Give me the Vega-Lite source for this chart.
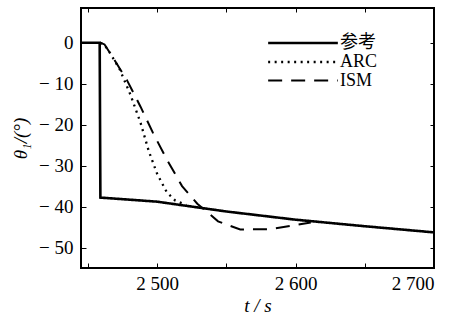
{
  "$schema": "https://vega.github.io/schema/vega-lite/v6.json",
  "width": 353,
  "height": 260,
  "autosize": {"type": "none"},
  "padding": {"left": 81, "top": 8, "right": 21, "bottom": 54},
  "background": "white",
  "config": {
    "view": {"stroke": "black", "strokeWidth": 2},
    "font": "Liberation Serif",
    "axis": {"domain": false, "grid": false, "tickColor": "black", "labelColor": "black", "titleColor": "black", "labelFont": "Liberation Serif", "titleFont": "Liberation Serif", "labelFontSize": 19, "titleFontSize": 19, "titleFontWeight": "normal"}
  },
  "data": {
    "values": [
      {"s": "参考", "t": 2445, "v": 0},
      {"s": "参考", "t": 2458.5, "v": 0},
      {"s": "参考", "t": 2459, "v": -37.8},
      {"s": "参考", "t": 2500, "v": -38.8},
      {"s": "参考", "t": 2550, "v": -41.2},
      {"s": "参考", "t": 2600, "v": -43.2},
      {"s": "参考", "t": 2650, "v": -44.8},
      {"s": "参考", "t": 2700, "v": -46.3},
      {"s": "ARC", "t": 2459, "v": 0},
      {"s": "ARC", "t": 2462, "v": -0.5},
      {"s": "ARC", "t": 2466, "v": -2.5},
      {"s": "ARC", "t": 2473, "v": -6.5},
      {"s": "ARC", "t": 2480.5, "v": -12.5},
      {"s": "ARC", "t": 2488, "v": -19.5},
      {"s": "ARC", "t": 2494, "v": -26.5},
      {"s": "ARC", "t": 2500, "v": -32},
      {"s": "ARC", "t": 2507, "v": -36.5},
      {"s": "ARC", "t": 2513, "v": -38.5},
      {"s": "ARC", "t": 2521, "v": -39.6},
      {"s": "ISM", "t": 2459, "v": 0},
      {"s": "ISM", "t": 2462, "v": -0.4},
      {"s": "ISM", "t": 2466, "v": -2.5},
      {"s": "ISM", "t": 2478, "v": -9},
      {"s": "ISM", "t": 2488, "v": -15.6},
      {"s": "ISM", "t": 2497, "v": -22},
      {"s": "ISM", "t": 2507, "v": -28.5},
      {"s": "ISM", "t": 2518, "v": -35},
      {"s": "ISM", "t": 2529, "v": -39.3},
      {"s": "ISM", "t": 2544, "v": -43.6},
      {"s": "ISM", "t": 2560, "v": -45.6},
      {"s": "ISM", "t": 2582, "v": -45.5},
      {"s": "ISM", "t": 2611, "v": -43.9}
    ]
  },
  "layer": [
    {
      "mark": {"type": "line", "color": "black", "strokeCap": "butt", "strokeJoin": "miter"},
      "encoding": {
        "x": {"field": "t", "type": "quantitative", "scale": {"domain": [2445, 2700], "nice": false, "zero": false},
          "axis": {"orient": "bottom", "title": "t / s", "titleFontStyle": "italic", "values": [2450, 2500, 2550, 2600, 2650, 2700], "labelExpr": "datum.value % 100 == 0 ? replace(format(datum.value, ','), ',', ' ') : ''", "tickSize": -5, "labelPadding": 11, "titlePadding": 3}},
        "y": {"field": "v", "type": "quantitative", "scale": {"domain": [-55, 8.5], "nice": false, "zero": false},
          "axis": {"orient": "left", "title": "θ₁/(°)", "titleFontStyle": "italic", "values": [-50, -40, -30, -20, -10, 0], "labelExpr": "datum.value < 0 ? '− ' + abs(datum.value) : '0'", "tickSize": -5, "labelPadding": 13, "titlePadding": 8}},
        "strokeDash": {"field": "s", "type": "nominal", "scale": {"domain": ["参考", "ARC", "ISM"], "range": [[1, 0], [2, 4.5], [14, 9]]},
          "legend": {"title": null, "orient": "none", "legendX": 212, "legendY": 25, "symbolType": "M-4.1,0H4.1", "symbolSize": 289, "symbolStrokeColor": "black", "symbolStrokeWidth": 2.2, "labelFont": "Liberation Serif, Noto Sans CJK SC", "labelFontSize": 18, "labelColor": "black", "labelOffset": 27, "rowPadding": 0}},
        "strokeWidth": {"field": "s", "type": "nominal", "scale": {"domain": ["参考", "ARC", "ISM"], "range": [2.6, 2, 2.2]}, "legend": null}
      }
    },
    {
      "mark": {"type": "line", "opacity": 0},
      "encoding": {
        "x": {"field": "t", "type": "quantitative", "axis": {"orient": "top", "title": null, "labels": false, "values": [2450, 2500, 2550, 2600, 2650, 2700], "tickSize": -4}},
        "y": {"field": "v", "type": "quantitative", "axis": {"orient": "right", "title": null, "labels": false, "values": [-50, -40, -30, -20, -10, 0], "tickSize": -4}}
      }
    }
  ],
  "resolve": {"axis": {"x": "independent", "y": "independent"}}
}
